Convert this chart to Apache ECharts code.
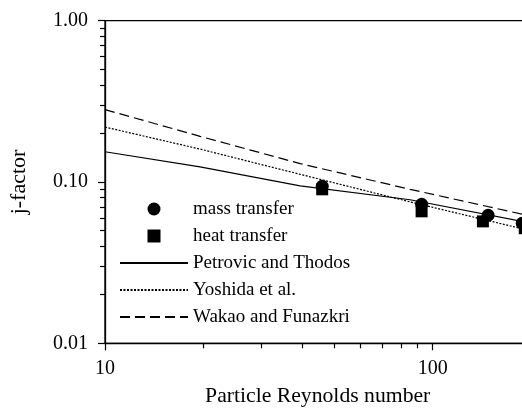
<!DOCTYPE html>
<html>
<head>
<meta charset="utf-8">
<script src="https://cdn.jsdelivr.net/npm/echarts@6/dist/echarts.min.js"></script>
<style>html,body{margin:0;padding:0;background:#fff;}#c{width:522px;height:412px;}</style>
</head>
<body>
<div id="c"></div>
<script>
// ---- data ----
const massRe = [46.0, 92.5, 147.6, 187.6];
const massJ = [0.0940, 0.0727, 0.0622, 0.0555];
const heatRe = [46.0, 92.5, 142.3, 191.0];
const heatJ = [0.0901, 0.0658, 0.0570, 0.0517];
const curveRe = [10, 19.5, 39.4, 85.3, 187.5];
const petrovicJ = [0.154, 0.124, 0.0947, 0.0776, 0.0570];
const yoshidaJ = [0.219, 0.160, 0.1116, 0.0753, 0.0513];
const wakaoJ = [0.281, 0.192, 0.130, 0.0901, 0.0631];
const xMajor = [10, 100, 1000];
const xMinor = [20, 30, 40, 50, 60, 70, 80, 90, 200, 300, 400, 500, 600, 700, 800, 900];
const yMajor = [0.01, 0.1, 1];
const yMinor = [0.02, 0.03, 0.04, 0.05, 0.06, 0.07, 0.08, 0.09, 0.2, 0.3, 0.4, 0.5, 0.6, 0.7, 0.8, 0.9];
const seriesNames = ['mass transfer', 'heat transfer', 'Petrovic and Thodos', 'Yoshida et al.', 'Wakao and Funazkri'];

const zip = (a, b) => a.map((v, i) => [v, b[i]]);
const FONT = 'Liberation Serif';
const chart = echarts.init(document.getElementById('c'), null, {renderer: 'canvas'});

const baseX = {
  type: 'log', logBase: 10, min: 10, max: 1000, gridIndex: 0, position: 'bottom',
  axisLine: {show: true, lineStyle: {color: '#000', width: 1.3}},
  splitLine: {show: false}, minorTick: {show: false}
};
const baseY = {
  type: 'log', logBase: 10, min: 0.01, max: 1, gridIndex: 0, position: 'left',
  axisLine: {show: true, lineStyle: {color: '#000', width: 1.3}},
  splitLine: {show: false}, minorTick: {show: false}
};
const lineItem = {color: '#000', opacity: 0};

chart.setOption({
  animation: false,
  backgroundColor: '#fff',
  grid: {left: 105, top: 20.7, bottom: 68.7, right: -238.4, outerBoundsMode: 'none', containLabel: false,
         show: true, borderColor: '#000', borderWidth: 1.3, backgroundColor: 'transparent'},
  legend: {
    data: [
      {name: seriesNames[0], icon: 'circle'},
      {name: seriesNames[1], icon: 'path://M0,0H10V10H0Z'},
      {name: seriesNames[2]},
      {name: seriesNames[3]},
      {name: seriesNames[4]}
    ],
    orient: 'vertical', left: 119, top: 199.5, padding: 0,
    itemWidth: 68, itemHeight: 13, itemGap: 8, symbolKeepAspect: true,
    textStyle: {fontFamily: FONT, fontSize: 19, color: '#000'},
    inactiveColor: '#000'
  },
  xAxis: [
    Object.assign({}, baseX, {
      name: 'Particle Reynolds number', nameLocation: 'middle', nameGap: 42, nameMoveOverlap: false,
      nameTextStyle: {fontFamily: FONT, fontSize: 21.7, color: '#000', padding: [0, 230, 0, 0]},
      axisTick: {show: true, length: 7, lineStyle: {color: '#000', width: 1.2}, customValues: xMajor},
      axisLabel: {show: true, margin: 15, fontFamily: FONT, fontSize: 20, color: '#000', customValues: xMajor, formatter: v => String(Math.round(v))}
    }),
    Object.assign({}, baseX, {
      axisLine: {show: false},
      axisTick: {show: true, length: 5, lineStyle: {color: '#000', width: 1.2}, customValues: xMinor},
      axisLabel: {show: false}
    })
  ],
  yAxis: [
    Object.assign({}, baseY, {
      name: 'j-factor', nameLocation: 'middle', nameGap: 75, nameMoveOverlap: false,
      nameTextStyle: {fontFamily: FONT, fontSize: 22, color: '#000'},
      axisTick: {show: true, length: 7, lineStyle: {color: '#000', width: 1.2}, customValues: yMajor},
      axisLabel: {show: true, margin: 17, fontFamily: FONT, fontSize: 20, color: '#000', customValues: yMajor, formatter: v => v.toFixed(2)}
    }),
    Object.assign({}, baseY, {
      axisLine: {show: false},
      axisTick: {show: true, length: 5, lineStyle: {color: '#000', width: 1.2}, customValues: yMinor},
      axisLabel: {show: false}
    })
  ],
  series: [
    {name: seriesNames[0], type: 'scatter', data: zip(massRe, massJ), symbol: 'circle', symbolSize: 13, itemStyle: {color: '#000', opacity: 1}, z: 5},
    {name: seriesNames[1], type: 'scatter', data: zip(heatRe, heatJ), symbol: 'rect', symbolSize: 12, itemStyle: {color: '#000', opacity: 1}, z: 5},
    {name: seriesNames[2], type: 'line', data: zip(curveRe, petrovicJ), symbol: 'none', lineStyle: {color: '#000', width: 1.2, type: 'solid'}, itemStyle: lineItem},
    {name: seriesNames[3], type: 'line', data: zip(curveRe, yoshidaJ), symbol: 'none', lineStyle: {color: '#000', width: 1.2, type: [2, 1.5]}, itemStyle: lineItem},
    {name: seriesNames[4], type: 'line', data: zip(curveRe, wakaoJ), symbol: 'none', lineStyle: {color: '#000', width: 1.2, type: [10, 5]}, itemStyle: lineItem}
  ]
});
</script>
</body>
</html>
